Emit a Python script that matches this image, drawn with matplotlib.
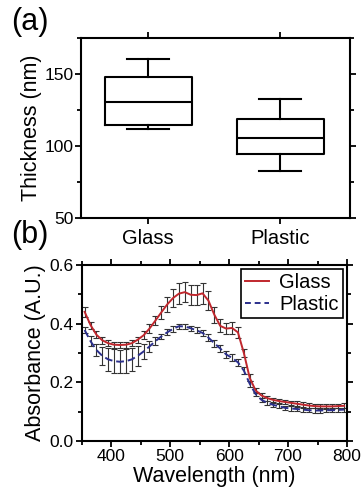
import numpy as np
import matplotlib
matplotlib.use("Agg")
from matplotlib import pyplot as plt
from matplotlib.ticker import MultipleLocator
from matplotlib.lines import Line2D

plt.rcParams['font.family'] = ['Liberation Sans', 'DejaVu Sans']

# (a) thickness box plot stats
categories = ["Glass", "Plastic"]
whisker_low = [111.8, 82.6]
q1 = [114.6, 94.4]
median = [130.6, 105.8]
q3 = [148.0, 118.8]
whisker_high = [160.4, 132.6]

# (b) absorbance spectra
wavelength = list(range(355, 800, 10))
glass_abs = [0.440, 0.395, 0.362, 0.343, 0.333, 0.328, 0.327, 0.328, 0.333, 0.345,
             0.360, 0.383, 0.410, 0.438, 0.465, 0.487, 0.502, 0.507, 0.498, 0.497,
             0.503, 0.478, 0.430, 0.392, 0.383, 0.385, 0.370, 0.300, 0.215, 0.172,
             0.155, 0.146, 0.140, 0.136, 0.133, 0.130, 0.127, 0.124, 0.121, 0.119,
             0.118, 0.118, 0.118, 0.119, 0.120]
glass_err = [0.018, 0.012, 0.012, 0.011, 0.010, 0.010, 0.010, 0.010, 0.010, 0.010,
             0.014, 0.015, 0.016, 0.022, 0.027, 0.032, 0.035, 0.035, 0.035, 0.035,
             0.035, 0.032, 0.028, 0.022, 0.020, 0.020, 0.020, 0.015, 0.012, 0.010,
             0.009, 0.008, 0.008, 0.008, 0.008, 0.008, 0.008, 0.008, 0.008, 0.008,
             0.008, 0.008, 0.008, 0.008, 0.008]
plastic_abs = [0.378, 0.340, 0.310, 0.290, 0.278, 0.272, 0.270, 0.272, 0.278, 0.290,
               0.305, 0.322, 0.340, 0.356, 0.370, 0.382, 0.391, 0.390, 0.384, 0.377,
               0.368, 0.352, 0.333, 0.315, 0.295, 0.283, 0.268, 0.240, 0.195, 0.160,
               0.140, 0.130, 0.123, 0.118, 0.113, 0.111, 0.109, 0.107, 0.105, 0.104,
               0.104, 0.105, 0.105, 0.106, 0.107]
plastic_err = [0.010, 0.018, 0.022, 0.030, 0.038, 0.040, 0.040, 0.040, 0.038, 0.034,
               0.026, 0.018, 0.014, 0.010, 0.010, 0.010, 0.008, 0.008, 0.008, 0.010,
               0.010, 0.012, 0.012, 0.012, 0.012, 0.012, 0.012, 0.012, 0.010, 0.008,
               0.008, 0.007, 0.007, 0.007, 0.007, 0.007, 0.007, 0.007, 0.007, 0.007,
               0.007, 0.007, 0.007, 0.007, 0.007]

fig = plt.figure(figsize=(3.63, 4.95), dpi=100)
ax1 = fig.add_axes([0.223, 0.560, 0.741, 0.363])
ax2 = fig.add_axes([0.225, 0.109, 0.731, 0.356])

# ---- (a) ----
stats = []
for i, name in enumerate(categories):
    stats.append(dict(label=name, whislo=whisker_low[i], q1=q1[i], med=median[i],
                      q3=q3[i], whishi=whisker_high[i], fliers=[]))
lw = 1.5
ax1.bxp(stats, positions=[1, 2], widths=0.66, showfliers=False,
        boxprops=dict(color='black', linewidth=lw),
        medianprops=dict(color='black', linewidth=lw),
        whiskerprops=dict(color='black', linewidth=lw),
        capprops=dict(color='black', linewidth=lw), capwidths=0.32)
ax1.set_xlim(0.49, 2.53)
ax1.set_ylim(50, 175)
ax1.yaxis.set_major_locator(MultipleLocator(50))
ax1.yaxis.set_minor_locator(MultipleLocator(25))
ax1.set_ylabel("Thickness (nm)", fontsize=15.5, labelpad=2)
ax1.tick_params(axis='x', labelsize=14.5, pad=4)
ax1.tick_params(axis='y', labelsize=12.5, pad=1)
ax1.tick_params(which='both', direction='out', top=True, right=True, width=1.3)
ax1.tick_params(which='major', length=4)
ax1.tick_params(which='minor', length=3)

# ---- (b) ----
red = '#c0272d'
blue = '#2b2f8c'
ax2.errorbar(wavelength, glass_abs, yerr=glass_err, color=red, linewidth=1.4,
             ecolor='#333333', elinewidth=0.8, capsize=2, capthick=0.8)
ax2.errorbar(wavelength, plastic_abs, yerr=plastic_err, color=blue, linewidth=1.4,
             linestyle=(0, (4, 2)), ecolor='#333333', elinewidth=0.8, capsize=2,
             capthick=0.8)
ax2.set_xlim(350, 800)
ax2.set_ylim(0, 0.6)
ax2.xaxis.set_major_locator(MultipleLocator(100))
ax2.xaxis.set_minor_locator(MultipleLocator(50))
ax2.yaxis.set_major_locator(MultipleLocator(0.2))
ax2.yaxis.set_minor_locator(MultipleLocator(0.1))
ax2.yaxis.set_major_formatter(matplotlib.ticker.FormatStrFormatter('%.1f'))
ax2.set_xlabel("Wavelength (nm)", fontsize=15.5, labelpad=1)
ax2.set_ylabel("Absorbance (A.U.)", fontsize=15.5, labelpad=2)
ax2.tick_params(labelsize=12.5, pad=2)
ax2.tick_params(which='both', direction='out', top=True, right=True, width=1.3)
ax2.tick_params(which='major', length=4)
ax2.tick_params(which='minor', length=3)
handles = [Line2D([], [], color=red, linewidth=1.4),
           Line2D([], [], color=blue, linewidth=1.4, linestyle=(0, (3, 2)))]
leg = ax2.legend(handles, ["Glass", "Plastic"], loc='upper right', fontsize=14.5,
                 frameon=True, fancybox=False, borderpad=0.2, handlelength=1.2,
                 handletextpad=0.5, labelspacing=0.15, borderaxespad=0.2)
leg.get_frame().set_edgecolor('black')
leg.get_frame().set_linewidth(1.2)
leg.get_frame().set_alpha(1)

for ax in (ax1, ax2):
    for sp in ax.spines.values():
        sp.set_linewidth(1.5)

fig.text(0.03, 0.955, "(a)", fontsize=22, va='center')
fig.text(0.03, 0.525, "(b)", fontsize=22, va='center')

fig.savefig("out.png", dpi=100)
